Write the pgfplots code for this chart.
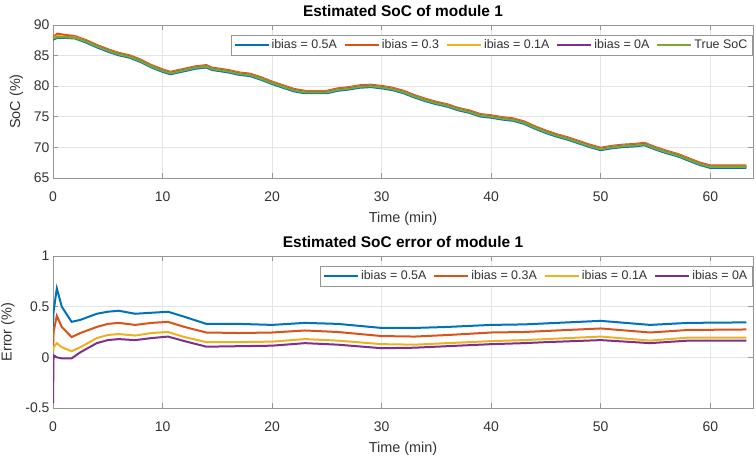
\documentclass[border=0pt]{standalone}
\usepackage{fontspec}
\setmainfont{Liberation Sans}
\usepackage{pgfplots}
\pgfplotsset{compat=1.18}
\usepackage{pgfplotstable}

\definecolor{cb}{rgb}{0,0.447,0.741}
\definecolor{co}{rgb}{0.85,0.325,0.098}
\definecolor{cy}{rgb}{0.929,0.694,0.125}
\definecolor{cp}{rgb}{0.494,0.184,0.556}
\definecolor{cg}{rgb}{0.466,0.674,0.188}
\definecolor{axgray}{RGB}{150,150,150}
\definecolor{gridgray}{RGB}{228,228,228}
\definecolor{txt}{RGB}{50,50,50}

\pgfplotstableread{
t g b o y p
0 87.8 87.6 88.0 87.9 87.8
0.4 88.0 87.9 88.6 88.2 88.0
1 88.0 87.9 88.4 88.1 88.0
2 87.9 87.8 88.2 88.0 87.9
3 87.3 87.15 87.55 87.4 87.35
4 86.5 86.35 86.75 86.6 86.55
5 85.8 85.65 86.05 85.9 85.85
6 85.2 85.05 85.45 85.3 85.25
7 84.8 84.65 85.05 84.9 84.85
8 84.1 83.95 84.35 84.2 84.15
9 83.2 83.05 83.45 83.3 83.25
10 82.5 82.35 82.75 82.6 82.55
10.7 82.1 81.95 82.35 82.2 82.15
12 82.6 82.45 82.85 82.7 82.65
13 83.0 82.85 83.25 83.1 83.05
14 83.2 83.05 83.45 83.3 83.25
14.5 82.8 82.65 83.05 82.9 82.85
16 82.4 82.25 82.65 82.5 82.45
17 82.0 81.85 82.25 82.1 82.05
18 81.8 81.65 82.05 81.9 81.85
19 81.2 81.05 81.45 81.3 81.25
20 80.5 80.35 80.75 80.6 80.55
21 79.9 79.75 80.15 80.0 79.95
22 79.3 79.15 79.55 79.4 79.35
23 79.0 78.85 79.25 79.1 79.05
25 79.0 78.85 79.25 79.1 79.05
26 79.4 79.25 79.65 79.5 79.45
27 79.6 79.45 79.85 79.7 79.65
28 79.9 79.75 80.15 80.0 79.95
29 80.0 79.85 80.25 80.1 80.05
30 79.8 79.65 80.05 79.9 79.85
31 79.5 79.35 79.75 79.6 79.55
32 79.0 78.85 79.25 79.1 79.05
33 78.3 78.15 78.55 78.4 78.35
34 77.7 77.55 77.95 77.8 77.75
35 77.2 77.05 77.45 77.3 77.25
36 76.8 76.65 77.05 76.9 76.85
37 76.2 76.05 76.45 76.3 76.25
38 75.8 75.65 76.05 75.9 75.85
39 75.2 75.05 75.45 75.3 75.25
40 75.0 74.85 75.25 75.1 75.05
41 74.7 74.55 74.95 74.8 74.75
42 74.5 74.35 74.75 74.6 74.55
43 74.0 73.85 74.25 74.1 74.05
44 73.2 73.05 73.45 73.3 73.25
45 72.5 72.35 72.75 72.6 72.55
46 71.9 71.75 72.15 72.0 71.95
47 71.4 71.25 71.65 71.5 71.45
48 70.8 70.65 71.05 70.9 70.85
49 70.2 70.05 70.45 70.3 70.25
50 69.7 69.55 69.95 69.8 69.75
51 70.0 69.85 70.25 70.1 70.05
52 70.2 70.05 70.45 70.3 70.25
53 70.3 70.15 70.55 70.4 70.35
54 70.5 70.35 70.75 70.6 70.55
55 69.8 69.65 70.05 69.9 69.85
56 69.2 69.05 69.45 69.3 69.25
57 68.7 68.55 68.95 68.8 68.75
58 68.0 67.85 68.25 68.1 68.05
59 67.3 67.15 67.55 67.4 67.35
60 66.8 66.65 67.05 66.9 66.85
63.3 66.8 66.65 67.05 66.9 66.85
}\soc

\pgfplotstableread{
t b o y p
0 0.30 0.05 0.05 -0.45
0.05 0.45 0.25 0.10 0.02
0.35 0.68 0.41 0.14 0.00
0.8 0.50 0.30 0.10 -0.01
1.7 0.35 0.20 0.06 -0.01
2.5 0.37 0.24 0.10 0.05
4 0.43 0.30 0.19 0.14
5 0.45 0.33 0.22 0.17
6 0.46 0.34 0.23 0.18
7.5 0.43 0.32 0.215 0.17
9 0.44 0.34 0.24 0.19
10.5 0.45 0.35 0.25 0.205
12 0.40 0.30 0.20 0.16
14 0.33 0.245 0.15 0.105
17 0.33 0.24 0.15 0.11
20 0.32 0.245 0.155 0.115
23 0.34 0.265 0.18 0.14
26 0.33 0.25 0.165 0.125
30 0.29 0.21 0.13 0.09
33 0.29 0.205 0.125 0.095
36 0.30 0.22 0.14 0.11
40 0.32 0.245 0.16 0.13
43 0.325 0.25 0.17 0.14
45 0.335 0.26 0.18 0.15
50 0.36 0.285 0.205 0.17
54.5 0.32 0.245 0.165 0.14
58 0.34 0.27 0.195 0.165
63.3 0.345 0.275 0.195 0.165
}\err

\pgfplotsset{
  common/.style={
    width=700bp, scale only axis,
    xmin=0, xmax=63.9, xtick={0,10,...,60},
    grid=major, grid style={color=gridgray, line width=0.6bp},
    axis line style={color=axgray, line width=0.7bp},
    tick style={color=axgray, line width=0.6bp},
    tick align=inside, major tick length=5bp,
    tick label style={font=\fontsize{14}{15}\selectfont, color=txt},
    xticklabel style={yshift=-10bp},
    label style={font=\fontsize{14.5}{16}\selectfont, color=txt},
    xlabel style={yshift=-4bp},
    ylabel style={yshift=4bp},
    title style={font=\bfseries\fontsize{15.5}{17}\selectfont, color=black, at={(0.5,1)}, anchor=south, yshift=-1.5bp},
    /pgf/number format/assume math mode=true,
    xlabel={Time (min)},
    every axis plot/.append style={line width=2bp},
    legend columns=-1,
    legend image code/.code={\draw[#1] (0bp,0bp) -- (34bp,0bp);},
    legend style={at={(1,1)}, anchor=north east, xshift=-1bp, yshift=-10bp,
      draw=axgray, fill=white, font=\fontsize{12.5}{14}\selectfont, text=txt,
      inner sep=2.5bp,
      /tikz/every even column/.append style={column sep=5bp}},
  }
}

\begin{document}
\begin{tikzpicture}
\path[use as bounding box] (-53bp,-48bp) rectangle (703bp,408bp);
\begin{axis}[common, at={(0,230bp)}, height=153bp,
  ymin=65, ymax=90, ytick={65,70,...,90},
  ylabel={SoC (\%)}, title={Estimated SoC of module 1}]
\addplot[cb] table[x=t,y=b]{\soc};
\addlegendentry{ibias = 0.5A}
\addplot[co] table[x=t,y=o]{\soc};
\addlegendentry{ibias = 0.3}
\addplot[cy] table[x=t,y=y]{\soc};
\addlegendentry{ibias = 0.1A}
\addplot[cp] table[x=t,y=p]{\soc};
\addlegendentry{ibias = 0A}
\addplot[cg] table[x=t,y=g]{\soc};
\addlegendentry{True SoC}
\end{axis}
\begin{axis}[common, at={(0,0)}, height=152bp,
  ymin=-0.5, ymax=1, ytick={-0.5,0,0.5,1},
  ylabel={Error (\%)}, title={Estimated SoC error of module 1}]
\addplot[cb] table[x=t,y=b]{\err};
\addlegendentry{ibias = 0.5A}
\addplot[co] table[x=t,y=o]{\err};
\addlegendentry{ibias = 0.3A}
\addplot[cy] table[x=t,y=y]{\err};
\addlegendentry{ibias = 0.1A}
\addplot[cp] table[x=t,y=p]{\err};
\addlegendentry{ibias = 0A}
\end{axis}
\end{tikzpicture}
\end{document}
